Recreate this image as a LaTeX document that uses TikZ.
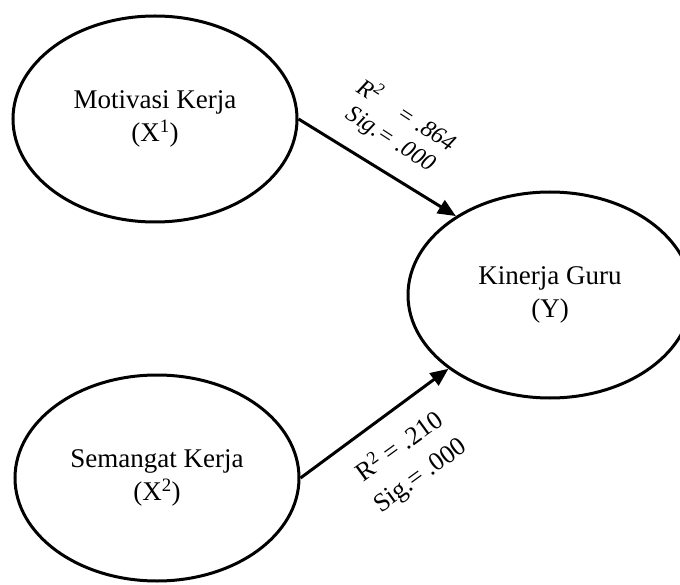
\documentclass[tikz,border=0pt]{standalone}
\usepackage{fontspec}
\setmainfont{Liberation Serif}
\usetikzlibrary{arrows.meta,shapes.geometric}
\begin{document}
\begin{tikzpicture}[x=1pt,y=-1pt,
  var/.style={ellipse,draw,line width=3pt,minimum width=284pt,minimum height=206pt,inner sep=0pt,align=center,font=\fontsize{27}{33}\selectfont},
  link/.style={line width=3pt,-{Triangle[length=18pt,width=15pt]}},
  lbl/.style={align=center,inner sep=0pt}]
\useasboundingbox (0,0) rectangle (680,585);
\node[var] (mk) at (155,119) {Motivasi Kerja\\(X\textsuperscript{1})};
\node[var] (sk) at (157,478) {Semangat Kerja\\(X\textsuperscript{2})};
\node[var] (kg) at (550,295) {Kinerja Guru\\(Y)};
\draw[link] (mk.east) -- (kg.140);
\draw[link] (sk.east) -- (kg.216);
\node[lbl,rotate=-33,font=\fontsize{24}{28}\selectfont\itshape] (l1) at (399,127) {R\textsuperscript{2}\quad = .864\\Sig.= .000};
\node[lbl,rotate=36,font=\fontsize{26}{35}\selectfont] (l2) at (410,461) {R\textsuperscript{2} = .210\\Sig.= .000};
\end{tikzpicture}
\end{document}
